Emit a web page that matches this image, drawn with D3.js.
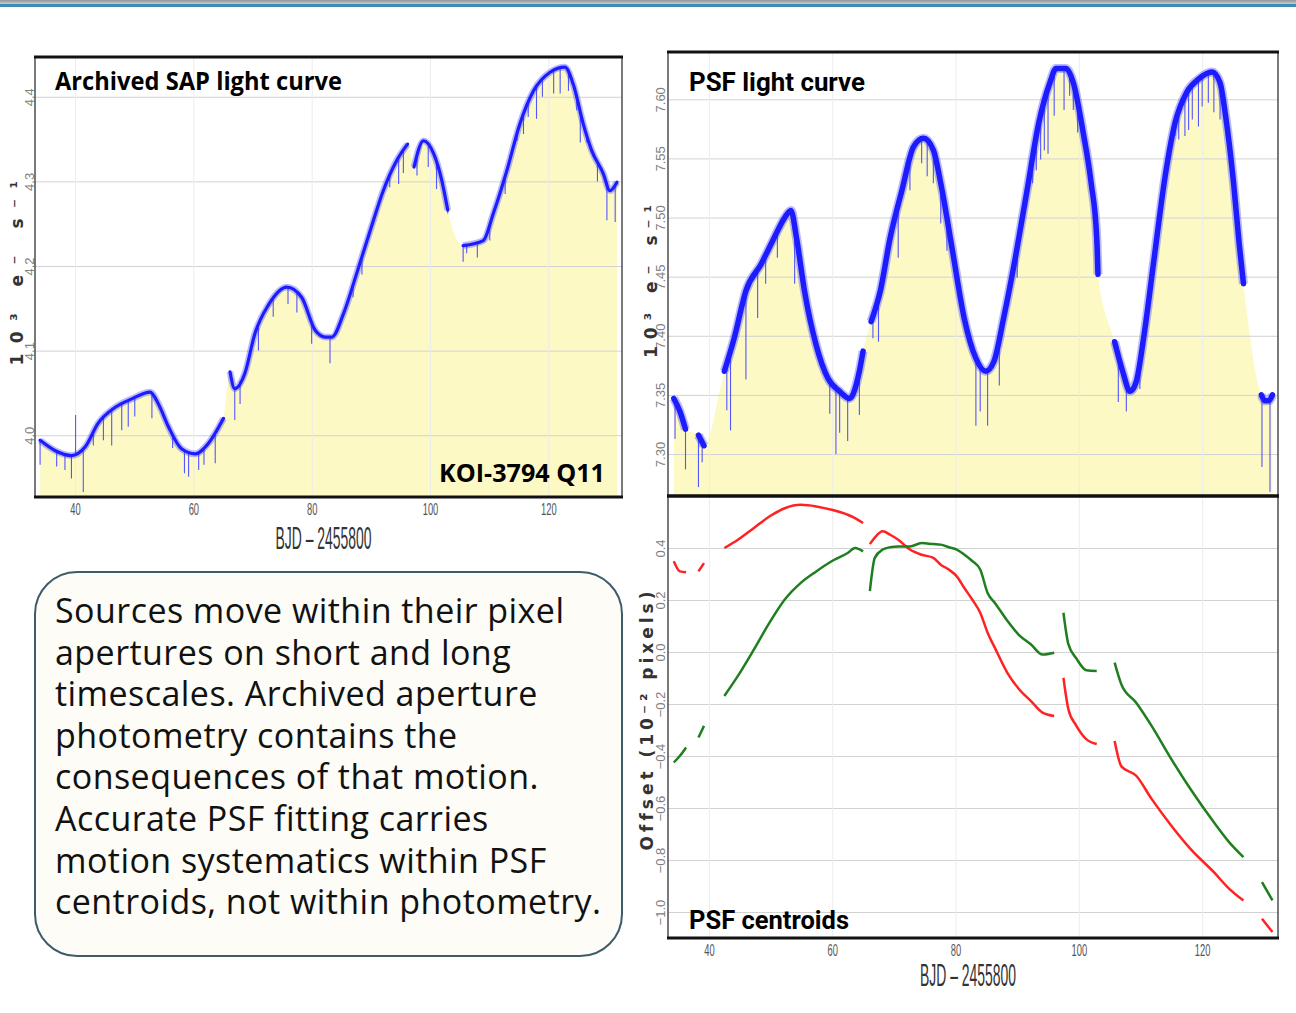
<!DOCTYPE html>
<html>
<head>
<meta charset="utf-8">
<script src="https://cdn.jsdelivr.net/npm/d3@7"></script>
<style>
  body { margin: 0; background: #fff; }
  svg { display: block; }
</style>
</head>
<body>
<div id="chart"></div>
<script>
// ---- data ----
const dayTicks = [40, 60, 80, 100, 120]

// archived SAP light curve (10^3 e-/s), null = data gap
const sapDays = [34.1, 36.6, 39.4, 41.7, 43.9, 46.8, 49.6, 52.7, 54.1, 55.8, 58.0, 60.3, 62.5, 65.1, 65.6,
    66.2, 67.0, 68.7, 70.4, 72.7, 75.8, 78.3, 80.6, 82.3, 83.4, 85.4, 87.6, 89.9, 92.1, 94.4, 96.2, 96.7,
    97.3, 98.9, 100.6, 102.0, 103.0, 104.3,
    105.6, 109.0, 110.7, 113.0, 115.2, 117.5, 120.3, 122.8, 124.2, 125.9, 127.3, 129.3, 130.4, 131.6]
const sapFlux = [3.994, 3.982, 3.976, 3.986, 4.014, 4.033, 4.043, 4.051, 4.037, 4.010, 3.984, 3.978, 3.990, 4.020, null,
    4.075, 4.055, 4.073, 4.120, 4.154, 4.175, 4.163, 4.124, 4.116, 4.116, 4.144, 4.191, 4.242, 4.289, 4.325, 4.344, null,
    4.317, 4.348, 4.333, 4.301, 4.266, null,
    4.224, 4.230, 4.262, 4.313, 4.368, 4.407, 4.429, 4.435, 4.415, 4.368, 4.337, 4.309, 4.289, 4.299]
const sapSpikeDays = [34.1, 36.9, 38.3, 39.4, 40.1, 41.4, 43.1, 44.8, 46.2, 47.9, 49.0, 50.1, 53.0, 56.5, 58.5, 59.2,
    60.9, 61.8, 63.7, 67.0, 67.9, 71.0, 73.5, 76.0, 77.5, 80.0, 83.1, 87.0, 88.5, 91.6, 93.2, 94.7, 95.5, 97.8,
    99.7, 101.1, 103.0, 105.6, 106.2, 108.0, 110.1, 112.7, 114.7, 115.8, 116.6, 118.0, 119.0, 120.9, 122.0,
    123.4, 124.8, 125.4, 126.5, 128.3, 129.9, 131.3]
const sapSpikeLows = [3.965, 3.963, 3.959, 3.949, 4.024, 3.933, 3.988, 3.994, 3.988, 4.006, 4.010, 4.022, 4.020, 3.985, 3.955, 3.951,
    3.959, 3.965, 3.967, 4.018, 4.037, 4.100, 4.140, 4.155, 4.145, 4.108, 4.085, 4.163, 4.190, 4.278, 4.293, 4.297, 4.310, 4.307,
    4.317, 4.291, 4.262, 4.205, 4.215, 4.210, 4.230, 4.285, 4.348, 4.356, 4.376, 4.374, 4.400, 4.404, 4.404,
    4.407, 4.384, 4.346, 4.346, 4.300, 4.254, 4.252]
const sapTicks = [4.0, 4.1, 4.2, 4.3, 4.4]

// PSF light curve (10^3 e-/s)
const psfDays = [34.3, 35.3, 36.2, 37.2, 38.3, 39.2, 40.8,
    42.5, 44.1, 46.0, 48.5, 50.4, 52.3, 53.3, 54.2, 55.5, 57.4, 59.3, 61.2, 62.8, 64.4, 65.0, 65.6,
    66.3, 67.8, 69.4, 71.3, 73.2, 74.8, 76.4, 77.6, 79.5, 81.4, 83.3, 84.9, 86.2, 87.8, 89.7, 91.6, 93.5,
    95.3, 96.3, 97.9, 99.1, 100.7, 102.0, 102.9, 103.1, 104.5,
    105.8, 107.1, 108.3, 109.3, 110.5, 112.1, 114.0, 115.6, 117.5, 119.4, 121.6, 122.9, 123.8, 125.1, 126.0, 126.7, 128.2,
    129.6, 130.2, 130.8, 131.4]
const psfFlux = [7.347, 7.336, 7.321, null, 7.316, 7.307, null,
    7.370, 7.398, 7.438, 7.461, 7.481, 7.500, 7.506, 7.483, 7.438, 7.392, 7.364, 7.353, 7.347, 7.370, 7.387, null,
    7.412, 7.438, 7.483, 7.523, 7.560, 7.567, 7.557, 7.529, 7.472, 7.415, 7.381, 7.370, 7.378, 7.415, 7.466, 7.523, 7.580,
    7.614, 7.626, 7.626, 7.614, 7.572, 7.529, 7.483, 7.452, null,
    7.395, 7.370, 7.353, 7.361, 7.398, 7.461, 7.535, 7.580, 7.606, 7.617, 7.623, 7.614, 7.586, 7.529, 7.478, 7.444, null,
    7.350, 7.345, 7.345, 7.350]
const psfSpikeDays = [34.5, 36.2, 38.3, 38.9, 42.9, 43.5, 46.0, 47.9, 49.2, 51.1, 53.9, 59.6, 60.6, 61.2, 62.5, 64.4,
    66.6, 67.5, 70.7, 72.6, 74.5, 75.4, 76.4, 77.6, 78.6, 83.3, 84.0, 85.2, 87.1, 90.0, 92.5, 93.1, 93.8, 94.4,
    95.0, 96.0, 97.6, 98.5, 99.1, 99.8, 102.6, 106.4, 107.7, 109.9, 111.2, 115.0, 115.6, 116.2, 117.2, 117.8,
    118.4, 119.4, 120.0, 121.0, 121.9, 122.9, 129.7, 131.0]
const psfSpikeLows = [7.313, 7.287, 7.272, 7.293, 7.337, 7.320, 7.363, 7.415, 7.444, 7.466, 7.444, 7.334, 7.300, 7.318, 7.311, 7.333,
    7.398, 7.395, 7.466, 7.523, 7.546, 7.535, 7.529, 7.495, 7.472, 7.324, 7.336, 7.324, 7.358, 7.449, 7.529, 7.540, 7.549, 7.557,
    7.554, 7.586, 7.591, 7.603, 7.591, 7.572, 7.478, 7.344, 7.336, 7.355, 7.424, 7.557, 7.569, 7.566, 7.569, 7.574,
    7.583, 7.577, 7.594, 7.597, 7.589, 7.583, 7.289, 7.268]
const psfTicks = [7.30, 7.35, 7.40, 7.45, 7.50, 7.55, 7.60]

// PSF centroid offsets (10^-2 pixels)
const cenDays = [34.3, 35.3, 36.3, 37.3, 38.3, 39.2, 40.8,
    42.5, 44.7, 47.3, 49.8, 52.3, 54.9, 57.4, 59.9, 62.5, 63.7, 65.0, 65.6,
    66.1, 66.9, 68.2, 69.4, 70.7, 72.6, 74.5, 76.4, 77.6, 78.9, 80.2, 81.4, 82.7, 84.0, 85.2, 86.5, 88.4,
    90.3, 92.2, 94.1, 96.0, 96.8,
    97.5, 98.3, 99.6, 101.2, 102.9, 104.3,
    105.8, 106.9, 109.3, 111.8, 115.0, 118.1, 121.9, 124.4, 126.7, 128.2,
    129.7, 131.4]
const cenRed = [0.349, 0.310, 0.307, null, 0.310, 0.342, null,
    0.400, 0.432, 0.477, 0.521, 0.553, 0.566, 0.560, 0.547, 0.528, 0.515, 0.496, null,
    0.415, 0.440, 0.464, 0.451, 0.432, 0.394, 0.374, 0.362, 0.336, 0.317, 0.291, 0.247, 0.202, 0.151, 0.074, 0.010, -0.080,
    -0.143, -0.188, -0.233, -0.246, null,
    -0.099, -0.220, -0.284, -0.335, -0.354, null,
    -0.342, -0.440, -0.476, -0.565, -0.668, -0.757, -0.847, -0.911, -0.956, null,
    -1.026, -1.077]
const cenGreen = [-0.425, -0.399, -0.367, null, -0.329, -0.284, null,
    -0.169, -0.092, 0.010, 0.112, 0.202, 0.266, 0.310, 0.349, 0.381, 0.400, 0.387, null,
    0.234, 0.362, 0.394, 0.403, 0.406, 0.406, 0.419, 0.415, 0.413, 0.403, 0.394, 0.375, 0.350, 0.317, 0.227, 0.185, 0.120,
    0.065, 0.030, -0.010, -0.003, null,
    0.151, 0.030, -0.025, -0.070, -0.073, null,
    -0.041, -0.125, -0.195, -0.284, -0.412, -0.527, -0.655, -0.732, -0.789, null,
    -0.885, -0.955]
const cenTicks = [-1.0, -0.8, -0.6, -0.4, -0.2, 0.0, 0.2, 0.4]

const noteLines = [
    "Sources move within their pixel",
    "apertures on short and long",
    "timescales. Archived aperture",
    "photometry contains the",
    "consequences of that motion.",
    "Accurate PSF fitting carries",
    "motion systematics within PSF",
    "centroids, not within photometry."
]

// ---- drawing ----
const W = 1296, H = 1013
const svg = d3.select("#chart").append("svg").attr("width", W).attr("height", H)
const defs = svg.append("defs")

const layerFill = svg.append("g")
const layerGrid = svg.append("g")
const layerMarks = svg.append("g")
const layerTop = svg.append("g")

const yellow = "#fcf9c4"
const blue = "#1c1cff"

// header strip
const grad = defs.append("linearGradient").attr("id", "hdr").attr("x1", 0).attr("x2", 0).attr("y1", 0).attr("y2", 1)
grad.append("stop").attr("offset", 0).attr("stop-color", "#8f9599")
grad.append("stop").attr("offset", 1).attr("stop-color", "#c9cccf")
svg.append("rect").attr("x", 0).attr("y", 0).attr("width", W).attr("height", 4).attr("fill", "url(#hdr)")
svg.append("rect").attr("x", 0).attr("y", 4).attr("width", W).attr("height", 3).attr("fill", "#3b8db6")

function makePanel(id, box, xDom, yDom) {
    const x = d3.scaleLinear().domain(xDom).range([box.x, box.x + box.w])
    const y = d3.scaleLinear().domain(yDom).range([box.y + box.h, box.y])
    defs.append("clipPath").attr("id", id).append("rect")
        .attr("x", box.x).attr("y", box.y).attr("width", box.w).attr("height", box.h)
    const back = layerFill.append("g").attr("clip-path", `url(#${id})`)
    const front = layerMarks.append("g").attr("clip-path", `url(#${id})`)
    return {x, y, box, back, front}
}

function addGrid(p, yTicks, fmt, labelShift) {
    const ax = layerGrid.append("g").attr("transform", `translate(${p.box.x},0)`)
        .call(d3.axisLeft(p.y).tickValues(yTicks).tickSize(-p.box.w).tickFormat(fmt))
    ax.select(".domain").remove()
    ax.selectAll("line").attr("stroke", "#d2d2d2").attr("stroke-width", 1)
    ax.selectAll("text")
        .attr("x", 0).attr("dy", null)
        .attr("transform", `translate(${labelShift},0) rotate(-90)`)
        .attr("text-anchor", "middle")
        .attr("fill", "#808080")
        .attr("font-size", 13)
        .attr("font-family", "'Liberation Sans', Arial, sans-serif")

    const vx = layerGrid.append("g").attr("transform", `translate(0,${p.box.y + p.box.h})`)
        .call(d3.axisBottom(p.x).tickValues(dayTicks).tickSize(-p.box.h).tickFormat(""))
    vx.select(".domain").remove()
    vx.selectAll("line").attr("stroke", "#ececec")
}

function addDayAxis(p, labelY) {
    const ax = layerTop.append("g").attr("transform", `translate(0,${p.box.y + p.box.h})`)
        .call(d3.axisBottom(p.x).tickValues(dayTicks).tickSize(0).tickFormat(d3.format("d")))
    ax.select(".domain").remove()
    ax.selectAll("text")
        .attr("y", 6).attr("dy", "0.71em")
        .attr("transform", "scale(0.55,1)")
        .attr("fill", "#555")
        .attr("font-size", 17)
        .attr("font-family", "'Liberation Sans', Arial, sans-serif")

    const cx = p.box.x + p.box.w / 2 - 5
    layerTop.append("text")
        .attr("x", cx).attr("y", labelY)
        .attr("text-anchor", "middle")
        .attr("font-family", "'Liberation Sans', Arial, sans-serif")
        .attr("font-size", 31)
        .attr("fill", "#333")
        .attr("textLength", 96).attr("lengthAdjust", "spacingAndGlyphs")
        .text("BJD – 2455800")
}

function interpAt(days, vals, t) {
    const pts = days.map((d, i) => [d, vals[i]]).filter(d => d[1] != null)
    const i = d3.bisector(d => d[0]).left(pts, t)
    if (i <= 0) return pts[0][1]
    if (i >= pts.length) return pts[pts.length - 1][1]
    const a = pts[i - 1], b = pts[i]
    return a[1] + (b[1] - a[1]) * (t - a[0]) / (b[0] - a[0])
}

function drawLight(p, days, flux, spikeDays, spikeLows, lw) {
    const pts = days.map((d, i) => [d, flux[i]])
    const solid = pts.filter(d => d[1] != null)

    p.back.append("path").datum(solid)
        .attr("d", d3.area().x(d => p.x(d[0])).y0(p.box.y + p.box.h).y1(d => p.y(d[1])).curve(d3.curveMonotoneX))
        .attr("fill", yellow)

    p.front.selectAll(null).data(spikeDays).join("line")
        .attr("x1", d => p.x(d)).attr("x2", d => p.x(d))
        .attr("y1", d => p.y(interpAt(days, flux, d)))
        .attr("y2", (d, i) => p.y(spikeLows[i]))
        .attr("stroke", "#5555ff").attr("stroke-width", 1.1)

    const line = d3.line().defined(d => d[1] != null).x(d => p.x(d[0])).y(d => p.y(d[1])).curve(d3.curveMonotoneX)
    // soft halo for the noisy band, then the dense core
    p.front.append("path").datum(pts).attr("d", line)
        .attr("fill", "none").attr("stroke", "#3a3aff").attr("stroke-opacity", 0.35).attr("stroke-width", lw + 3.5)
        .attr("stroke-linejoin", "round")
    p.front.append("path").datum(pts).attr("d", line)
        .attr("fill", "none").attr("stroke", blue).attr("stroke-width", lw)
        .attr("stroke-linejoin", "round").attr("stroke-linecap", "round")
}

function drawCentroid(p, vals, color) {
    const pts = cenDays.map((d, i) => [d, vals[i]])
    p.front.append("path").datum(pts)
        .attr("d", d3.line().defined(d => d[1] != null).x(d => p.x(d[0])).y(d => p.y(d[1])).curve(d3.curveMonotoneX))
        .attr("fill", "none").attr("stroke", color).attr("stroke-width", 2.5)
        .attr("stroke-linejoin", "round")
}

function frame(box, thickTop, thickBottom) {
    layerTop.append("rect").attr("x", box.x).attr("y", box.y).attr("width", box.w).attr("height", box.h)
        .attr("fill", "none").attr("stroke", "#333").attr("stroke-width", 1.3)
    if (thickTop) layerTop.append("line").attr("x1", box.x - 1).attr("x2", box.x + box.w + 1)
        .attr("y1", box.y).attr("y2", box.y).attr("stroke", "#111").attr("stroke-width", 3)
    if (thickBottom) layerTop.append("line").attr("x1", box.x - 1).attr("x2", box.x + box.w + 1)
        .attr("y1", box.y + box.h).attr("y2", box.y + box.h).attr("stroke", "#111").attr("stroke-width", 3)
}

function title(txt, x, y, len, family, anchor) {
    layerTop.append("text")
        .attr("x", x).attr("y", y)
        .attr("text-anchor", anchor || "start")
        .attr("font-family", family)
        .attr("font-weight", "bold")
        .attr("font-size", 25)
        .attr("fill", "#000")
        .attr("textLength", len).attr("lengthAdjust", "spacingAndGlyphs")
        .text(txt)
}

function yLabel(txt, x, y, spacing) {
    layerTop.append("text")
        .attr("transform", `translate(${x},${y}) rotate(-90)`)
        .attr("text-anchor", "middle")
        .attr("font-family", "'DejaVu Sans', sans-serif")
        .attr("font-weight", "bold")
        .attr("font-size", 17)
        .attr("letter-spacing", spacing)
        .attr("fill", "#333")
        .text(txt)
}

// left: archived SAP
const sapBox = {x: 35, y: 57, w: 587, h: 440}
const sap = makePanel("clipSap", sapBox, [33.24, 132.45], [3.927, 4.447])
drawLight(sap, sapDays, sapFlux, sapSpikeDays, sapSpikeLows, 3.2)
addGrid(sap, sapTicks, d3.format(".1f"), -1)
addDayAxis(sap, 549)
frame(sapBox, true, true)
title("Archived SAP light curve", 55, 90, 287, "'Open Sans', sans-serif")
title("KOI-3794 Q11", 605, 482, 166, "'Open Sans', sans-serif", "end")
yLabel("10³ e⁻ s⁻¹", 23, 268, 10.5)

// right top: PSF light curve
const psfBox = {x: 668, y: 52, w: 610, h: 444}
const psf = makePanel("clipPsf", psfBox, [33.36, 132.3], [7.2645, 7.640])
drawLight(psf, psfDays, psfFlux, psfSpikeDays, psfSpikeLows, 5.5)
addGrid(psf, psfTicks, d3.format(".2f"), -3)
frame(psfBox, true, true)
title("PSF light curve", 689, 91, 176, "Roboto, sans-serif")
yLabel("10³ e⁻ s⁻¹", 657, 278, 7)

// right bottom: PSF centroids
const cenBox = {x: 668, y: 496, w: 610, h: 442}
const cen = makePanel("clipCen", cenBox, [33.36, 132.3], [-1.1, 0.6])
addGrid(cen, cenTicks, d3.format(".1f"), -3)
drawCentroid(cen, cenRed, "#ff2222")
drawCentroid(cen, cenGreen, "#1f7f1f")
addDayAxis(cen, 986)
frame(cenBox, true, true)
title("PSF centroids", 689, 929, 160, "Roboto, sans-serif")
yLabel("Offset (10⁻² pixels)", 653, 719, 4)

// note box
layerTop.append("rect")
    .attr("x", 35).attr("y", 572).attr("width", 587).attr("height", 384).attr("rx", 42)
    .attr("fill", "#fdfcf6").attr("stroke", "#3e5b6b").attr("stroke-width", 2)
layerTop.append("g").selectAll("text").data(noteLines).join("text")
    .attr("x", 55).attr("y", (d, i) => 623 + i * 41.6)
    .attr("font-family", "'Open Sans', sans-serif")
    .attr("font-size", 34)
    .attr("letter-spacing", 0.45)
    .attr("fill", "#111")
    .text(d => d)
</script>
</body>
</html>
